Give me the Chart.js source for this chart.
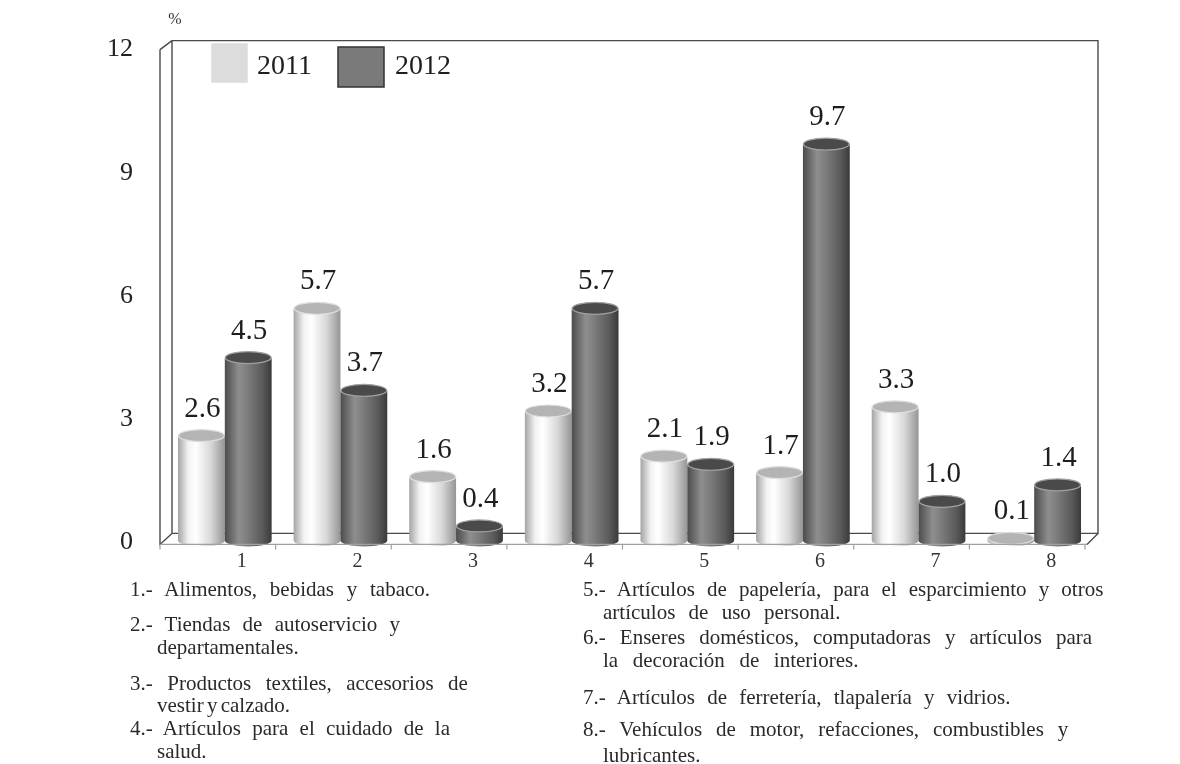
<!DOCTYPE html>
<html>
<head>
<meta charset="utf-8">
<script src="https://cdn.jsdelivr.net/npm/chart.js@4"></script>
<style>
  html, body { margin: 0; padding: 0; background: #fff; }
  #wrap { position: relative; width: 1180px; height: 764px; overflow: hidden; }
  #chart-box { position: absolute; left: 0; top: 0; width: 1180px; height: 592px; }
  .note { position: absolute; font-family: "Liberation Serif", "Times New Roman", Tinos, "DejaVu Serif", serif;
          font-size: 21px; line-height: 24px; color: #2a2a2a; white-space: nowrap; }
</style>
</head>
<body>
<div id="wrap">
  <div id="chart-box"><canvas id="chart" width="1180" height="592"></canvas></div>
</div>
<script>
// values (%)
const categories = ['1', '2', '3', '4', '5', '6', '7', '8'];
const seriesLabels = ['2011', '2012'];
const values2011 = [2.6, 5.7, 1.6, 3.2, 2.1, 1.7, 3.3, 0.1];
const values2012 = [4.5, 3.7, 0.4, 5.7, 1.9, 9.7, 1.0, 1.4];
const yMin = 0, yMax = 12, yStep = 3;
const unitLabel = '%';

const SERIF = '"Liberation Serif", "Times New Roman", Tinos, "DejaVu Serif", serif';

// footnotes: [text, left, centerY, targetWidth]
const notes = [
    ['1.- Alimentos, bebidas y tabaco.', 130, 589, 300],
    ['2.- Tiendas de autoservicio y', 130, 624, 270],
    ['departamentales.', 157, 647, 0],
    ['3.- Productos textiles, accesorios de', 130, 683, 338],
    ['vestir y calzado.', 157, 705, 133],
    ['4.- Artículos para el cuidado de la', 130, 728, 320],
    ['salud.', 157, 751, 0],
    ['5.- Artículos de papelería, para el esparcimiento y otros', 583, 589, 520],
    ['artículos de uso personal.', 603, 612, 237],
    ['6.- Enseres domésticos, computadoras y artículos para', 583, 637, 509],
    ['la decoración de interiores.', 603, 660, 255],
    ['7.- Artículos de ferretería, tlapalería y vidrios.', 583, 697, 427],
    ['8.- Vehículos de motor, refacciones, combustibles y', 583, 729, 485],
    ['lubricantes.', 603, 755, 0]
];

const palettes = [
    { stops: [[0, '#a4a4a4'], [0.22, '#f2f2f2'], [0.38, '#ffffff'], [0.7, '#d8d8d8'], [1, '#959595']],
      top: '#b4b4b4', rim: '#dedede', legend: '#dcdcdc', legendBorder: '#dcdcdc' },
    { stops: [[0, '#4c4c4c'], [0.3, '#8e8e8e'], [0.45, '#808080'], [0.8, '#5a5a5a'], [1, '#3a3a3a']],
      top: '#4a4a4a', rim: '#a0a0a0', legend: '#7a7a7a', legendBorder: '#333333' }
];

function drawCylinder(ctx, x, top, base, w, pal) {
    const rx = w / 2, ry = 6;
    const g = ctx.createLinearGradient(x - rx, 0, x + rx, 0);
    pal.stops.forEach(s => g.addColorStop(s[0], s[1]));
    ctx.beginPath();
    ctx.moveTo(x - rx, top);
    ctx.lineTo(x - rx, base);
    ctx.ellipse(x, base, rx, ry, 0, Math.PI, 0, true);
    ctx.lineTo(x + rx, top);
    ctx.ellipse(x, top, rx, ry, 0, 0, Math.PI, false);
    ctx.closePath();
    ctx.fillStyle = g;
    ctx.fill();
    ctx.beginPath();
    ctx.ellipse(x, top, rx - 0.5, ry, 0, 0, Math.PI * 2);
    ctx.fillStyle = pal.top;
    ctx.fill();
    ctx.strokeStyle = pal.rim;
    ctx.lineWidth = 1.2;
    ctx.stroke();
}

const cylinderPlugin = {
    id: 'cylinders',
    beforeDatasetsDraw(chart) {
        const ctx = chart.ctx;
        const ca = chart.chartArea;
        const xs = chart.scales.x;
        const catW = (ca.right - ca.left) / categories.length;
        ctx.save();

        // 3D frame: back wall, left wall, floor
        ctx.strokeStyle = '#4a4a4a';
        ctx.lineWidth = 1.4;
        const bl = ca.left + 5, bt = ca.top - 9, br = ca.right + 6, bb = ca.bottom - 9;
        const fl = ca.left - 7, fb = ca.bottom + 2, fr = ca.right - 5;
        ctx.beginPath();
        ctx.moveTo(bl, bb); ctx.lineTo(bl, bt); ctx.lineTo(br, bt); ctx.lineTo(br, bb); ctx.lineTo(bl, bb);
        ctx.moveTo(fl, ca.top); ctx.lineTo(bl, bt);
        ctx.moveTo(fl, ca.top); ctx.lineTo(fl, fb); ctx.lineTo(bl, bb);
        ctx.moveTo(br, bb); ctx.lineTo(fr, fb);
        ctx.stroke();

        // cylinders, category by category so the darker one overlaps
        const metas = chart.data.datasets.map((d, i) => chart.getDatasetMeta(i));
        for (let i = 0; i < categories.length; i++) {
            metas.forEach((meta, di) => {
                const el = meta.data[i];
                const p = el.getProps(['x', 'y', 'base', 'width'], true);
                drawCylinder(ctx, p.x, p.y, p.base - 2, p.width, palettes[di]);
            });
        }

        // front floor edge and ticks
        ctx.beginPath();
        ctx.moveTo(fl, fb); ctx.lineTo(fr, fb);
        for (let i = 0; i <= categories.length; i++) {
            const tx = xs.getPixelForValue(i) - catW / 2 - 7;
            ctx.moveTo(tx, fb); ctx.lineTo(tx, fb + 5);
        }
        ctx.stroke();

        // value labels
        ctx.fillStyle = '#1e1e1e';
        ctx.font = '29px ' + SERIF;
        ctx.textAlign = 'center';
        ctx.textBaseline = 'alphabetic';
        metas.forEach(meta => {
            meta.data.forEach((el, i) => {
                const v = chart.data.datasets[meta.index].data[i];
                ctx.fillText(v.toFixed(1), el.x + 1, el.y - 19);
            });
        });

        // category labels
        ctx.font = '20px ' + SERIF;
        ctx.fillStyle = '#333';
        ctx.textBaseline = 'middle';
        categories.forEach((c, i) => ctx.fillText(c, xs.getPixelForValue(i) + 17, ca.bottom + 19));

        // unit
        ctx.font = '16px ' + SERIF;
        ctx.fillText(unitLabel, ca.left + 8, 20);

        // legend
        ctx.textAlign = 'left';
        ctx.font = '28px ' + SERIF;
        const items = [{ x: 212, y: 44, w: 35, h: 38, tx: 257 }, { x: 338, y: 47, w: 46, h: 40, tx: 395 }];
        items.forEach((it, k) => {
            ctx.fillStyle = palettes[k].legend;
            ctx.fillRect(it.x, it.y, it.w, it.h);
            ctx.strokeStyle = palettes[k].legendBorder;
            ctx.lineWidth = 1.5;
            ctx.strokeRect(it.x, it.y, it.w, it.h);
            ctx.fillStyle = '#1e1e1e';
            ctx.fillText(seriesLabels[k], it.tx, 67);
        });

        ctx.restore();
        return false;
    }
};

new Chart(document.getElementById('chart'), {
    type: 'bar',
    data: {
        labels: categories,
        datasets: [
            { label: seriesLabels[0], data: values2011, backgroundColor: '#dcdcdc' },
            { label: seriesLabels[1], data: values2012, backgroundColor: '#7a7a7a' }
        ]
    },
    options: {
        responsive: false,
        animation: false,
        events: [],
        layout: { padding: { top: 47, right: 88, left: 0, bottom: 0 } },
        datasets: { bar: { categoryPercentage: 0.81, barPercentage: 1.0 } },
        plugins: { legend: { display: false }, tooltip: { enabled: false } },
        scales: {
            x: {
                grid: { display: false },
                border: { display: false },
                ticks: { display: false },
                afterFit: s => { s.height = 30; }
            },
            y: {
                min: yMin, max: yMax,
                grid: { display: false, drawTicks: false },
                border: { display: false },
                ticks: { stepSize: yStep, padding: 34, color: '#222',
                         font: { family: SERIF, size: 26 } },
                afterFit: s => { s.width = 167; }
            }
        }
    },
    plugins: [cylinderPlugin]
});

// footnotes, spread to the measured widths
const wrap = document.getElementById('wrap');
notes.forEach(([text, left, cy, width]) => {
    const d = document.createElement('div');
    d.className = 'note';
    d.textContent = text;
    d.style.left = left + 'px';
    d.style.top = (cy - 12) + 'px';
    wrap.appendChild(d);
    const spaces = (text.match(/ /g) || []).length;
    if (width && spaces) {
        const extra = (width - d.offsetWidth) / spaces;
        d.style.wordSpacing = Math.max(-2, extra) + 'px';
    }
});
</script>
</body>
</html>
